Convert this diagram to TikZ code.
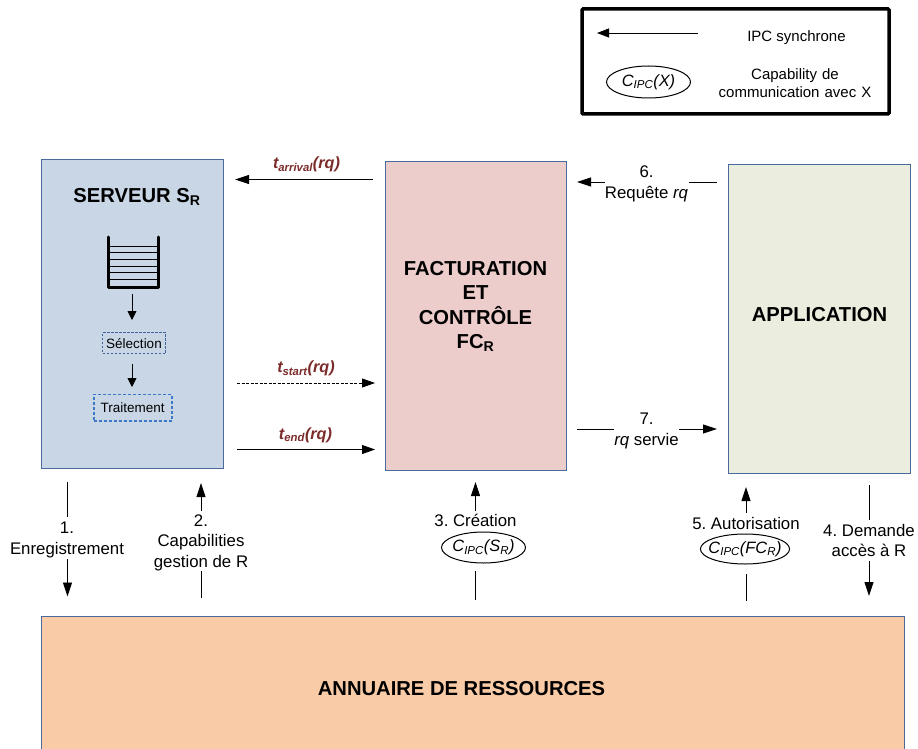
\documentclass[tikz,border=0pt]{standalone}
\usepackage{fontspec}
\setmainfont{Liberation Sans}
\usetikzlibrary{arrows.meta,shapes.geometric}
\definecolor{edgeblue}{HTML}{4A6A9C}
\definecolor{serverfill}{HTML}{C9D6E6}
\definecolor{fcfill}{HTML}{EDCDCB}
\definecolor{appfill}{HTML}{EBEEDF}
\definecolor{dirfill}{HTML}{F9CBA6}
\definecolor{timebrown}{HTML}{7B2C2A}
\definecolor{dashblue}{HTML}{3D78C8}
\definecolor{dashnavy}{HTML}{41659B}
\newcommand{\fs}[1]{\fontsize{#1}{#1}\selectfont}
\newcommand{\cipc}[1]{{\itshape C\textsubscript{IPC}(#1)}}
\frenchspacing
\tikzset{
  x=1pt,y=-1pt,
  panel/.style={draw=edgeblue,line width=0.9pt,inner sep=0pt},
  title/.style={font=\fs{20.2}\bfseries,align=center,inner sep=0pt,text depth=0pt},
  lab/.style={font=\fs{16.8},inner sep=0pt,align=center},
  leg/.style={font=\fs{15},inner sep=0pt,align=center},
  ttime/.style={font=\fs{16.2}\bfseries\itshape,text=timebrown,inner sep=0pt},
  ipcl/.style={-{Triangle[length=12pt,width=9pt]},line width=0.9pt,black},
  seg/.style={line width=0.9pt,black},
  capsule/.style={ellipse,draw=black,line width=1pt,inner sep=-5pt,font=\fs{16.4}},
  dashbox/.style={draw,dashed,inner sep=0pt,font=\fs{13.5}},
}
\begin{document}
\begin{tikzpicture}
\useasboundingbox (0,0) rectangle (918,749);
% legend
\node[draw=black,line width=3.5pt,rounded corners=1pt,minimum width=307pt,minimum height=105pt,inner sep=0pt] (legend) at (735.5,61.5) {};
\coordinate (legA) at (698,33);
\coordinate (legB) at (597,33);
\draw[ipcl] (legA) -- (legB);
\node[leg] (legipc) at (796.5,37.5) {IPC synchrone};
\node[capsule,minimum width=84pt,minimum height=32pt] (legell) at (648.5,82) {\cipc{X}};
\node[leg,text width=170pt] (legcap) at (795,83) {Capability de\\[3.4pt]communication avec X};
% panels
\node[panel,fill=serverfill,minimum width=182pt,minimum height=309pt] (server) at (132,313.5) {};
\node[panel,fill=fcfill,minimum width=181pt,minimum height=309pt] (fc) at (475.5,315.5) {};
\node[panel,fill=appfill,minimum width=181.5pt,minimum height=309pt] (app) at (819.25,318.5) {};
\node[panel,fill=dirfill,minimum width=863pt,minimum height=140pt] (dir) at (472.5,686) {};
\node[title] (srvt) at (137,195.5) {SERVEUR S\textsubscript{R}};
\node[title,align=center] (fct) at (475.5,305) {FACTURATION\\[4.3pt]ET\\[4.3pt]CONTRÔLE\\[4.3pt]FC\textsubscript{R}};
\node[title] (appt) at (819.5,314) {APPLICATION};
\node[title] (dirt) at (461.5,688) {ANNUAIRE DE RESSOURCES};
% queue
\coordinate (qtl) at (108.7,237);
\coordinate (qbl) at (108.7,287.2);
\coordinate (qbr) at (158.3,287.2);
\coordinate (qtr) at (158.3,237);
\draw[line width=3pt,line cap=round,line join=round] (qtl) -- (qbl) -- (qbr) -- (qtr);
\foreach \yy in {246.7,252.8,259.3,266,272.7,279.3}
  \draw[line width=0.7pt] (108.7,\yy) -- (158.3,\yy);
% inner flow
\node[dashbox,draw=dashnavy,line width=1pt,dash pattern=on 2.5pt off 1.5pt,minimum width=63pt,minimum height=21pt] (sel) at (134,343.2) {Sélection};
\node[dashbox,draw=dashblue,line width=1.8pt,dash pattern=on 3pt off 2pt,minimum width=78pt,minimum height=26.5pt] (trt) at (132.7,407.7) {Traitement};
\coordinate (qout) at (132,293.5);
\coordinate (selin) at (132,320);
\coordinate (selout) at (132,363.5);
\coordinate (trtin) at (132,387);
\draw[ipcl,-{Triangle[length=9pt,width=9pt]}] (qout) -- (selin);
\draw[ipcl,-{Triangle[length=9pt,width=9pt]}] (selout) -- (trtin);
% time arrows
\coordinate (ta1) at (373,179.5); \coordinate (ta2) at (235,179.5);
\coordinate (ts1) at (237,383); \coordinate (ts2) at (375,383);
\coordinate (te1) at (237,449.5); \coordinate (te2) at (375,449.5);
\draw[ipcl,-{Triangle[length=14pt,width=9pt]}] (ta1) -- (ta2);
\draw[ipcl,dashed,dash pattern=on 3pt off 1.5pt,-{Triangle[length=13pt,width=9pt]}] (ts1) -- (ts2);
\draw[ipcl,-{Triangle[length=13pt,width=9pt]}] (te1) -- (te2);
\node[ttime] (tarr) at (306.5,164.5) {t\textsubscript{arrival}(rq)};
\node[ttime] (tsta) at (306,368.5) {t\textsubscript{start}(rq)};
\node[ttime] (tend) at (305.5,435) {t\textsubscript{end}(rq)};
% 6
\coordinate (s6a) at (717,182); \coordinate (s6b) at (689,182);
\coordinate (s6c) at (605,182); \coordinate (s6d) at (577,182);
\draw[seg] (s6a) -- (s6b);
\draw[ipcl,-{Triangle[length=14pt,width=9pt]}] (s6c) -- (s6d);
\node[lab] (l6) at (646.5,183.5) {6.\\[4pt]Requête \textit{rq}};
% 7
\coordinate (s7a) at (577,429); \coordinate (s7b) at (614,429);
\coordinate (s7c) at (679,429); \coordinate (s7d) at (717,429);
\draw[seg] (s7a) -- (s7b);
\draw[ipcl,-{Triangle[length=14pt,width=9pt]}] (s7c) -- (s7d);
\node[lab] (l7) at (646.5,431) {7.\\[4pt]\textit{rq} servie};
% 1
\coordinate (s1a) at (67.5,482); \coordinate (s1b) at (67.5,517);
\coordinate (s1c) at (67.5,559); \coordinate (s1d) at (67.5,596.5);
\draw[seg] (s1a) -- (s1b);
\draw[ipcl,-{Triangle[length=14pt,width=9pt]}] (s1c) -- (s1d);
\node[lab] (l1) at (67,540) {1.\\[4pt]Enregistrement};
% 2
\coordinate (s2a) at (201,598); \coordinate (s2b) at (201,571);
\coordinate (s2c) at (201,511); \coordinate (s2d) at (201,483);
\draw[seg] (s2a) -- (s2b);
\draw[ipcl,-{Triangle[length=14pt,width=9pt]}] (s2c) -- (s2d);
\node[lab] (l2) at (201,542.5) {2.\\[3.6pt]Capabilities\\[3.6pt]gestion de R};
% 3
\coordinate (s3a) at (475.5,600); \coordinate (s3b) at (475.5,571);
\coordinate (s3c) at (475.5,511); \coordinate (s3d) at (475.5,482);
\draw[seg] (s3a) -- (s3b);
\draw[ipcl,-{Triangle[length=14pt,width=9pt]}] (s3c) -- (s3d);
\node[lab] (l3) at (475.5,520) {3. Création};
\node[capsule,minimum width=84pt,minimum height=31pt] (e3) at (483.5,547.5) {\cipc{S\textsubscript{R}}};
% 5
\coordinate (s5a) at (746,601); \coordinate (s5b) at (746,574);
\coordinate (s5c) at (746,513); \coordinate (s5d) at (746,487);
\draw[seg] (s5a) -- (s5b);
\draw[ipcl,-{Triangle[length=14pt,width=9pt]}] (s5c) -- (s5d);
\node[lab] (l5) at (746,523) {5. Autorisation};
\node[capsule,minimum width=89pt,minimum height=30pt] (e5) at (745,549) {\cipc{FC\textsubscript{R}}};
% 4
\coordinate (s4a) at (869,485); \coordinate (s4b) at (869,520);
\coordinate (s4c) at (869,561); \coordinate (s4d) at (869,596);
\draw[seg] (s4a) -- (s4b);
\draw[ipcl,-{Triangle[length=14pt,width=9pt]}] (s4c) -- (s4d);
\node[lab] (l4) at (869,540.5) {4. Demande\\[3.4pt]accès à R};
\end{tikzpicture}
\end{document}
